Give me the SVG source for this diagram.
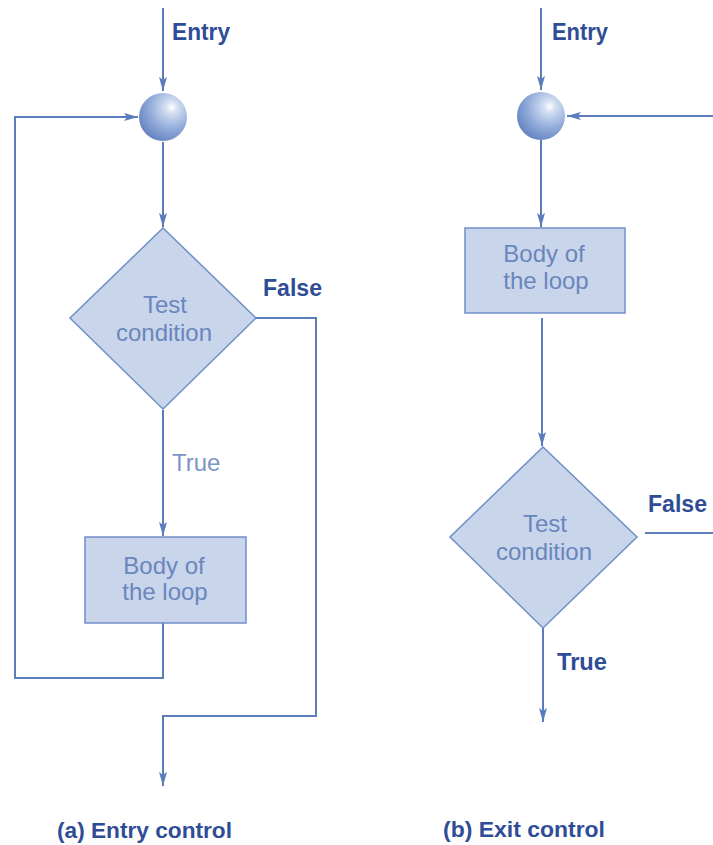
<svg xmlns="http://www.w3.org/2000/svg" width="713" height="845" viewBox="0 0 713 845">
<defs>
<radialGradient id="ball" cx="0.68" cy="0.3" r="0.8">
<stop offset="0" stop-color="#ffffff"/>
<stop offset="0.15" stop-color="#d4e0f2"/>
<stop offset="0.55" stop-color="#94addb"/>
<stop offset="1" stop-color="#5f7fbd"/>
</radialGradient>
<marker id="arr" viewBox="0 0 14 8" refX="14" refY="4" markerWidth="14" markerHeight="8" markerUnits="userSpaceOnUse" orient="auto">
<path d="M0,0 L14,4 L0,8 L3,4 Z" fill="#5b7cbd"/>
</marker>
<style>
.ln{fill:none;stroke:#5b7cbd;stroke-width:2}
.shape{fill:#c8d5ea;stroke:#6f8fc8;stroke-width:1.5}
.in{font-family:"Liberation Sans",Arial,sans-serif;font-size:24px;fill:#6a86bd;text-anchor:middle}
.lbl{font-family:"Liberation Sans",Arial,sans-serif;font-size:23px;font-weight:bold;fill:#2f4d96}
.cap{font-family:"Liberation Sans",Arial,sans-serif;font-size:22px;font-weight:bold;fill:#2f4d96}
.lt{font-family:"Liberation Sans",Arial,sans-serif;font-size:24px;fill:#7b95c6}
</style>
</defs>
<rect width="713" height="845" fill="#ffffff"/>
<g id="connectors">
<path class="ln" d="M163,8 V91" marker-end="url(#arr)"/>
<path class="ln" d="M163,678 H15 V117 H138" marker-end="url(#arr)"/>
<path class="ln" d="M163,623 V679"/>
<path class="ln" d="M163,142 V227" marker-end="url(#arr)"/>
<path class="ln" d="M163,410 V536" marker-end="url(#arr)"/>
<path class="ln" d="M256,318 H316 V716 H163 V786" marker-end="url(#arr)"/>
<path class="ln" d="M541,8 V90" marker-end="url(#arr)"/>
<path class="ln" d="M713,116 H567" marker-end="url(#arr)"/>
<path class="ln" d="M541,140 V227" marker-end="url(#arr)"/>
<path class="ln" d="M542,318 V446" marker-end="url(#arr)"/>
<path class="ln" d="M645,533 H713"/>
<path class="ln" d="M543,628 V722" marker-end="url(#arr)"/>
</g>
<g id="a-entry"><text class="lbl" x="172" y="40" textLength="58" lengthAdjust="spacingAndGlyphs">Entry</text></g>
<g id="a-junction"><circle cx="163" cy="117" r="24" fill="url(#ball)"/></g>
<g id="a-test">
<polygon class="shape" points="163,228 256,318 163,409 70,318"/>
<text class="in" x="165" y="313">Test</text>
<text class="in" x="164" y="341">condition</text>
</g>
<g id="a-false"><text class="lbl" x="263" y="296" textLength="59" lengthAdjust="spacingAndGlyphs">False</text></g>
<g id="a-true"><text class="lt" x="172" y="471">True</text></g>
<g id="a-body">
<rect class="shape" x="85" y="537" width="161" height="86"/>
<text class="in" x="164" y="574">Body of</text>
<text class="in" x="165" y="600">the loop</text>
</g>
<g id="a-caption"><text class="cap" x="57" y="838" textLength="175" lengthAdjust="spacingAndGlyphs">(a) Entry control</text></g>
<g id="b-entry"><text class="lbl" x="552" y="40" textLength="56" lengthAdjust="spacingAndGlyphs">Entry</text></g>
<g id="b-junction"><circle cx="541" cy="116" r="24" fill="url(#ball)"/></g>
<g id="b-body">
<rect class="shape" x="465" y="228" width="160" height="85"/>
<text class="in" x="544" y="262">Body of</text>
<text class="in" x="546" y="289">the loop</text>
</g>
<g id="b-test">
<polygon class="shape" points="543,447 637,537 543,628 450,537"/>
<text class="in" x="545" y="532">Test</text>
<text class="in" x="544" y="560">condition</text>
</g>
<g id="b-false"><text class="lbl" x="648" y="512" textLength="59" lengthAdjust="spacingAndGlyphs">False</text></g>
<g id="b-true"><text class="lbl" x="557" y="670" textLength="50" lengthAdjust="spacingAndGlyphs">True</text></g>
<g id="b-caption"><text class="cap" x="443" y="837" textLength="162" lengthAdjust="spacingAndGlyphs">(b) Exit control</text></g>
</svg>
